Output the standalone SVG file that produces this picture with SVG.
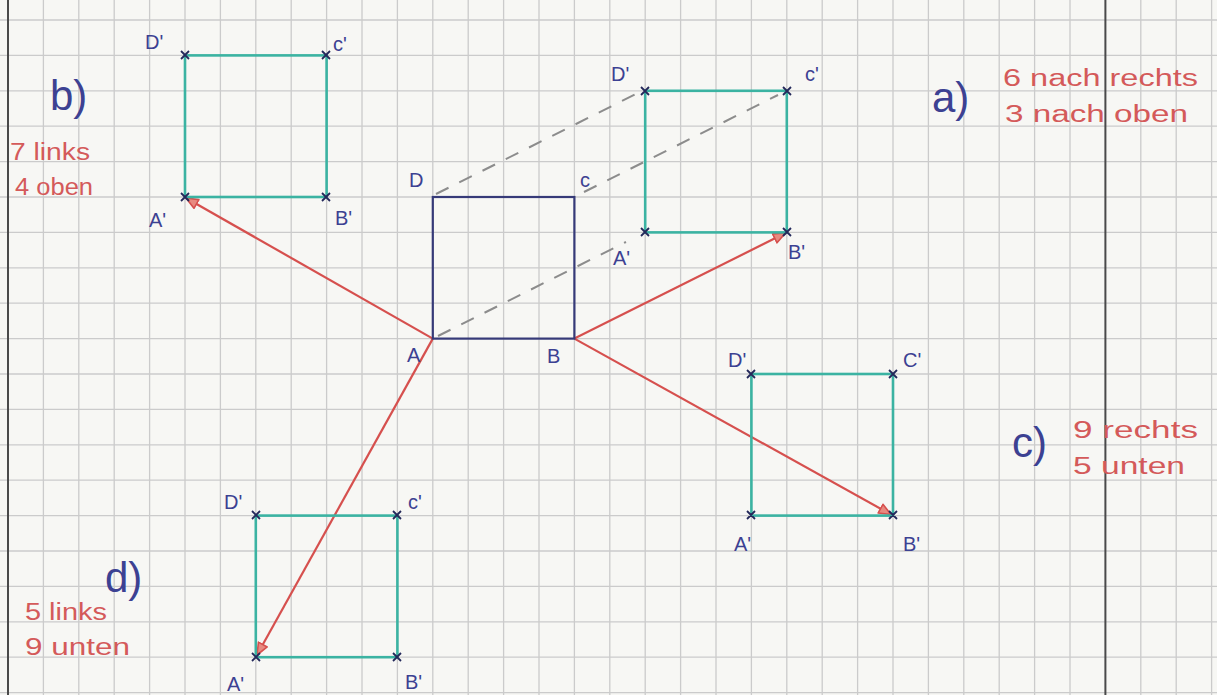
<svg xmlns="http://www.w3.org/2000/svg" width="1217" height="695" viewBox="0 0 1217 695">
<style>
.grid{stroke:#cbcbcb;stroke-width:1.3;fill:none}
.margin{stroke:#4a4a4a;stroke-width:2;fill:none}
.orig{stroke:#363a78;stroke-width:2.2;fill:none}
.img{stroke:#3bb3a2;stroke-width:2.6;fill:none}
.mark{stroke:#23285a;stroke-width:1.8;fill:none}
.arrow{stroke:#d6504e;stroke-width:2.2;fill:none;marker-end:url(#ah)}
.dash{stroke:#8c8c8c;stroke-width:2;fill:none;stroke-dasharray:14 12}
.lbl{font-family:"Liberation Sans",Arial,sans-serif;font-size:20px;fill:#3c4192}
.big{font-family:"Liberation Sans",Arial,sans-serif;font-size:42px;fill:#3c4192}
.note{font-family:"Liberation Sans",Arial,sans-serif;font-size:23px;fill:#d45a5a}
</style>
<defs>
<marker id="ah" markerUnits="userSpaceOnUse" markerWidth="16" markerHeight="14" refX="13" refY="6" orient="auto">
<path d="M1,1 L13,6 L1,11 Z" fill="#e88a80" stroke="#d6504e" stroke-width="1.6" stroke-linejoin="round"/>
</marker>
</defs>
<rect width="1217" height="695" fill="#f7f7f4"/>
<g id="grid">
<path class="grid" d="M43.4 0V695M78.8 0V695M114.2 0V695M149.6 0V695M185 0V695M220.4 0V695M255.8 0V695M291.2 0V695M326.6 0V695M362 0V695M397.4 0V695M432.8 0V695M468.2 0V695M503.6 0V695M539 0V695M574.4 0V695M609.8 0V695M645.2 0V695M680.6 0V695M716 0V695M751.4 0V695M786.8 0V695M822.2 0V695M857.6 0V695M893 0V695M928.4 0V695M963.8 0V695M999.2 0V695M1034.6 0V695M1070 0V695M1140.8 0V695M1176.2 0V695M1211.6 0V695M0 20H1217M0 55.4H1217M0 90.8H1217M0 126.2H1217M0 161.6H1217M0 197H1217M0 232.4H1217M0 267.8H1217M0 303.2H1217M0 338.6H1217M0 374H1217M0 409.4H1217M0 444.8H1217M0 480.2H1217M0 515.6H1217M0 551H1217M0 586.4H1217M0 621.8H1217M0 657.2H1217M0 692.6H1217"/>
<path class="margin" d="M8 0V695M1105.4 0V695"/>
</g>
<g id="connectors">
<line class="dash" x1="436" y1="194" x2="636" y2="94"/>
<line class="dash" x1="584" y1="192" x2="778" y2="95"/>
<line class="dash" x1="438" y1="336" x2="626" y2="242"/>
<line class="arrow" x1="432.8" y1="338.6" x2="186" y2="198"/>
<line class="arrow" x1="574.4" y1="338.6" x2="785.5" y2="233"/>
<line class="arrow" x1="574.4" y1="338.6" x2="891" y2="514.5"/>
<line class="arrow" x1="432.8" y1="338.6" x2="257" y2="655"/>
</g>
<g id="square-ABCD">
<rect class="orig" x="432.8" y="197" width="141.6" height="141.6"/>
<text class="lbl" x="409" y="187">D</text>
<text class="lbl" x="580" y="187">c</text>
<text class="lbl" x="407" y="362">A</text>
<text class="lbl" x="547" y="363">B</text>
</g>
<g id="square-a">
<rect class="img" x="645.2" y="90.8" width="141.6" height="141.6"/>
<path class="mark" d="M641 87l8 8M649 87l-8 8M783 87l8 8M791 87l-8 8M641 228l8 8M649 228l-8 8M783 228l8 8M791 228l-8 8"/>
<text class="lbl" x="611" y="81">D'</text>
<text class="lbl" x="805" y="81">c'</text>
<text class="lbl" x="613" y="265">A'</text>
<text class="lbl" x="788" y="259">B'</text>
</g>
<g id="square-b">
<rect class="img" x="185" y="55.4" width="141.6" height="141.6"/>
<path class="mark" d="M181 51l8 8M189 51l-8 8M322 51l8 8M330 51l-8 8M181 193l8 8M189 193l-8 8M322 193l8 8M330 193l-8 8"/>
<text class="lbl" x="145" y="49">D'</text>
<text class="lbl" x="333" y="51">c'</text>
<text class="lbl" x="149" y="227">A'</text>
<text class="lbl" x="335" y="225">B'</text>
</g>
<g id="square-c">
<rect class="img" x="751.4" y="374" width="141.6" height="141.6"/>
<path class="mark" d="M747 370l8 8M755 370l-8 8M889 370l8 8M897 370l-8 8M747 511l8 8M755 511l-8 8M889 511l8 8M897 511l-8 8"/>
<text class="lbl" x="728" y="367">D'</text>
<text class="lbl" x="903" y="367">C'</text>
<text class="lbl" x="734" y="551">A'</text>
<text class="lbl" x="903" y="551">B'</text>
</g>
<g id="square-d">
<rect class="img" x="255.8" y="515.6" width="141.6" height="141.6"/>
<path class="mark" d="M252 511l8 8M260 511l-8 8M393 511l8 8M401 511l-8 8M252 653l8 8M260 653l-8 8M393 653l8 8M401 653l-8 8"/>
<text class="lbl" x="224" y="509">D'</text>
<text class="lbl" x="408" y="509">c'</text>
<text class="lbl" x="227" y="691">A'</text>
<text class="lbl" x="405" y="689">B'</text>
</g>
<g id="note-a">
<text class="big" x="932" y="112">a)</text>
<text class="note" x="1003" y="86" textLength="195" lengthAdjust="spacingAndGlyphs">6 nach rechts</text>
<text class="note" x="1005" y="122" textLength="183" lengthAdjust="spacingAndGlyphs">3 nach oben</text>
</g>
<g id="note-b">
<text class="big" x="50" y="110">b)</text>
<text class="note" x="10" y="160" textLength="80" lengthAdjust="spacingAndGlyphs">7 links</text>
<text class="note" x="15" y="195" textLength="78" lengthAdjust="spacingAndGlyphs">4 oben</text>
</g>
<g id="note-c">
<text class="big" x="1012" y="457">c)</text>
<text class="note" x="1073" y="438" textLength="125" lengthAdjust="spacingAndGlyphs">9 rechts</text>
<text class="note" x="1073" y="474" textLength="112" lengthAdjust="spacingAndGlyphs">5 unten</text>
</g>
<g id="note-d">
<text class="big" x="105" y="592">d)</text>
<text class="note" x="25" y="620" textLength="82" lengthAdjust="spacingAndGlyphs">5 links</text>
<text class="note" x="25" y="655" textLength="105" lengthAdjust="spacingAndGlyphs">9 unten</text>
</g>
</svg>
